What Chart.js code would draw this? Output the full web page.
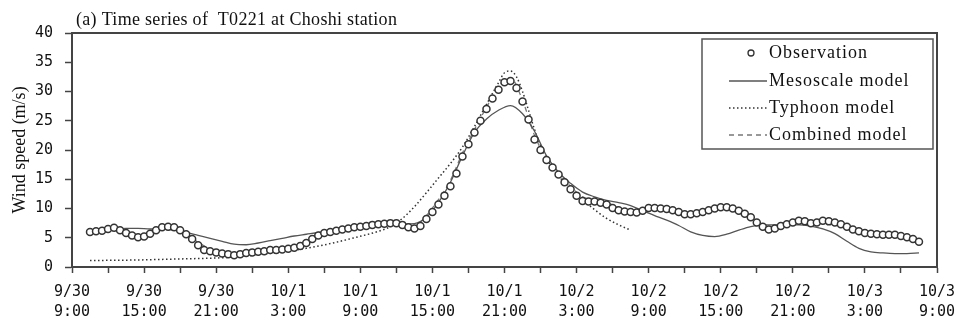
<!DOCTYPE html>
<html>
<head>
<meta charset="utf-8">
<script src="https://cdn.jsdelivr.net/npm/chart.js@4.4.0/dist/chart.umd.min.js"></script>
<style>
  html, body { margin: 0; padding: 0; background: #fff; }
  #c { display: block; }
</style>
</head>
<body>
<canvas id="c" width="956" height="324"></canvas>
<script>
// hours counted from 9/30 9:00
const obsStartHour = 1.5;
const obsStepHours = 0.5;
const obsSpeed = [
  6.0, 6.1, 6.2, 6.5, 6.7, 6.3, 5.8, 5.4, 5.1, 5.2, 5.7, 6.3,
  6.8, 6.9, 6.8, 6.3, 5.6, 4.8, 3.7, 2.9, 2.7, 2.5, 2.3, 2.2,
  2.0, 2.2, 2.4, 2.5, 2.6, 2.7, 2.9, 2.9, 3.0, 3.1, 3.3, 3.6,
  4.1, 4.8, 5.4, 5.8, 6.0, 6.2, 6.4, 6.6, 6.8, 6.9, 7.0, 7.2,
  7.3, 7.4, 7.5, 7.5, 7.2, 6.8, 6.6, 7.0, 8.2, 9.4, 10.7, 12.2,
  13.8, 16.0, 18.9, 21.0, 23.0, 25.0, 27.0, 28.8, 30.3, 31.6, 31.8, 30.6,
  28.3, 25.2, 21.8, 20.0, 18.3, 17.0, 15.8, 14.5, 13.3, 12.2, 11.3, 11.2,
  11.2, 11.0, 10.7, 10.1, 9.7, 9.5, 9.4, 9.3, 9.6, 10.1, 10.1, 10.0,
  9.9, 9.7, 9.4, 9.0, 9.0, 9.2, 9.4, 9.7, 10.0, 10.2, 10.2, 10.0,
  9.6, 9.1, 8.5, 7.6, 6.9, 6.4, 6.6, 7.0, 7.3, 7.6, 7.9, 7.8,
  7.5, 7.6, 7.9, 7.8, 7.6, 7.3, 6.9, 6.4, 6.1, 5.8, 5.7, 5.6,
  5.5, 5.5, 5.5, 5.3, 5.1, 4.8, 4.3
];

const mesoHours = [
  1.5, 2.5, 3.5, 4.5, 5.5, 6.5, 7.5, 8.5, 9.5, 10.5, 11.5, 12.5,
  13.5, 14.5, 15.5, 16.5, 17.5, 18.5, 19.5, 20.5, 21.5, 22.5, 23.5, 24.5,
  25.5, 26.5, 27.5, 28.5, 29.5, 30.5, 31.5, 32.5, 33.5, 34.5, 35.5, 36.5,
  37.5, 38.5, 39.5, 40.5, 41.5, 42.5, 43.5, 44.5, 45.5, 46.5, 47.5, 48.5,
  49.5, 50.5, 51.5, 52.5, 53.5, 54.5, 55.5, 56.5, 57.5, 58.5, 59.5, 60.5,
  61.5, 62.5, 63.5, 64.5, 65.5, 66.5, 67.5, 68.5, 69.5, 70.5
];
const mesoSpeed = [
  6.2, 6.3, 6.5, 6.6, 6.6, 6.5, 6.5, 6.3, 5.9, 5.4, 4.9, 4.4,
  3.9, 3.8, 4.1, 4.5, 4.9, 5.3, 5.6, 5.9, 6.1, 6.4, 6.6, 6.8,
  7.0, 7.2, 7.3, 7.4, 8.5, 11.0, 14.5, 19.0, 23.0, 25.3, 26.8, 27.6,
  26.2, 23.2, 19.0, 16.2, 14.3, 12.8, 12.0, 11.4, 11.0, 10.5, 9.6, 8.8,
  8.0, 7.1, 6.0, 5.4, 5.2, 5.6, 6.3, 6.9, 7.2, 7.2, 7.2, 7.2,
  7.0, 6.5, 5.7, 4.4, 3.2, 2.6, 2.4, 2.3, 2.3, 2.4
];

const typhoonHours = [
  1.5, 3.5, 5.5, 7.5, 9.5, 11.5, 13.5, 15.5, 17.5, 19.5, 21.5, 23.5,
  25.5, 26.5, 27.5, 28.5, 29.5, 30.5, 31.5, 32.5, 33.5, 34.5, 35.5, 36.0,
  36.5, 37.0, 37.5, 38.0, 38.5, 39.0, 39.5, 40.5, 41.5, 42.5, 43.5, 44.5,
  45.5, 46.5
];
const typhoonSpeed = [
  1.1, 1.15, 1.2, 1.3, 1.4, 1.5, 1.7, 2.1, 2.6, 3.2, 4.0, 5.0,
  6.1, 6.9, 8.3, 10.3, 12.7, 15.2, 17.7, 20.5, 24.0, 27.8, 31.5, 33.2,
  33.5, 32.5, 30.0, 26.8, 23.5, 20.8, 18.6, 15.6, 13.3, 11.5, 9.8, 8.3,
  7.2, 6.3
];

const combinedHours = mesoHours;
const combinedSpeed = [
  6.1, 6.3, 6.5, 6.1, 5.5, 5.8, 6.6, 6.6, 5.7, 4.2, 3.1, 2.6,
  2.4, 2.6, 2.8, 3.0, 3.2, 3.5, 4.2, 5.2, 5.9, 6.3, 6.7, 6.9,
  7.2, 7.4, 7.3, 7.0, 8.8, 11.5, 14.8, 19.5, 23.5, 27.3, 30.8, 32.3,
  28.5, 22.5, 18.5, 16.0, 13.8, 12.0, 11.5, 11.0, 10.2, 9.6, 9.6, 10.0,
  9.8, 9.4, 9.1, 9.4, 9.9, 10.1, 9.6, 8.6, 7.1, 6.7, 7.3, 7.8,
  7.6, 7.8, 7.5, 6.9, 6.1, 5.7, 5.5, 5.5, 5.1, 4.4
];

const titleText = '(a) Time series of  T0221 at Choshi station';
const yTitle = 'Wind speed (m/s)';
const seriesNames = ['Observation', 'Mesoscale model', 'Typhoon model', 'Combined model'];

function pairs(xs, ys) {
  return ys.map((v, i) => ({ x: xs[i], y: v }));
}
const obsPoints = obsSpeed.map((v, i) => ({ x: obsStartHour + i * obsStepHours, y: v }));

function hourLabel(h) {
  const total = 9 + h;
  const day = 30 + Math.floor(total / 24);
  const date = day === 30 ? '9/30' : '10/' + (day - 30);
  return [date, (total % 24) + ':00'];
}

// axes keep a fixed size so the plot box lands where the original one is
function fixX(s) {
  s.height = 57;
  s.paddingLeft = 0;
  s.paddingRight = 0;
}
function fixY(s) {
  s.width = 72;
  s.paddingTop = 0;
  s.paddingBottom = 0;
}

const decor = {
  id: 'decor',
  afterDraw(chart) {
    const { ctx, chartArea: a } = chart;
    ctx.save();
    ctx.strokeStyle = '#444';
    ctx.lineWidth = 2;
    ctx.beginPath();
    ctx.moveTo(a.left, a.top);
    ctx.lineTo(a.right, a.top);
    ctx.lineTo(a.right, a.bottom);
    ctx.stroke();

    ctx.fillStyle = '#111';
    ctx.font = '18px "Liberation Serif"';
    ctx.textBaseline = 'middle';
    ctx.letterSpacing = '0.3px';
    ctx.fillText(titleText, 76, 20);

    // legend box
    ctx.strokeStyle = '#555';
    ctx.lineWidth = 1.5;
    ctx.strokeRect(702, 39, 231, 110);
    ctx.letterSpacing = '1px';
    const rows = [53, 81, 108, 135];
    chart.data.datasets.forEach((ds, i) => {
      const y = rows[i];
      if (i === 0) {
        ctx.beginPath();
        ctx.arc(751, y, 3, 0, Math.PI * 2);
        ctx.fillStyle = '#fff';
        ctx.fill();
        ctx.strokeStyle = ds.borderColor;
        ctx.lineWidth = 1.3;
        ctx.setLineDash([]);
        ctx.stroke();
      } else {
        ctx.beginPath();
        ctx.strokeStyle = ds.borderColor;
        ctx.lineWidth = ds.borderWidth;
        ctx.setLineDash(ds.borderDash || []);
        ctx.moveTo(729, y);
        ctx.lineTo(767, y);
        ctx.stroke();
        ctx.setLineDash([]);
      }
      ctx.fillStyle = '#111';
      ctx.fillText(ds.label, 769, y);
    });
    ctx.restore();
  }
};

new Chart(document.getElementById('c'), {
  type: 'scatter',
  data: {
    datasets: [
      {
        label: seriesNames[0],
        data: obsPoints,
        showLine: false,
        pointRadius: 3.5,
        pointBorderWidth: 1.5,
        borderColor: '#333',
        pointBackgroundColor: '#fff',
        backgroundColor: '#fff'
      },
      {
        label: seriesNames[1],
        data: pairs(mesoHours, mesoSpeed),
        showLine: true,
        pointRadius: 0,
        borderColor: '#555',
        borderWidth: 1.3,
        cubicInterpolationMode: 'monotone'
      },
      {
        label: seriesNames[2],
        data: pairs(typhoonHours, typhoonSpeed),
        showLine: true,
        pointRadius: 0,
        borderColor: '#333',
        borderWidth: 1.5,
        borderDash: [1.5, 2.5],
        cubicInterpolationMode: 'monotone'
      },
      {
        label: seriesNames[3],
        data: pairs(combinedHours, combinedSpeed),
        showLine: true,
        pointRadius: 0,
        borderColor: '#777',
        borderWidth: 1.3,
        borderDash: [5, 4],
        cubicInterpolationMode: 'monotone'
      }
    ]
  },
  options: {
    responsive: false,
    animation: false,
    layout: { autoPadding: false, padding: { top: 33, right: 19, left: 0, bottom: 0 } },
    plugins: { legend: { display: false }, tooltip: { enabled: false } },
    scales: {
      x: {
        type: 'linear',
        min: 0,
        max: 72,
        afterFit: fixX,
        ticks: {
          stepSize: 3,
          autoSkip: false,
          maxRotation: 0,
          padding: 9,
          color: '#111',
          font: { family: '"DejaVu Sans Mono"', size: 15, lineHeight: 1.33 },
          callback: v => (v % 6 === 0 ? hourLabel(v) : '')
        },
        grid: { drawOnChartArea: false, tickLength: 6, tickColor: '#444', tickWidth: 1.5 },
        border: { color: '#444', width: 2 }
      },
      y: {
        min: 0,
        max: 40,
        afterFit: fixY,
        ticks: {
          stepSize: 5,
          padding: 12,
          color: '#111',
          font: { family: '"DejaVu Sans Mono"', size: 15 }
        },
        grid: { drawOnChartArea: false, tickLength: 7, tickColor: '#444', tickWidth: 1.5 },
        border: { color: '#444', width: 2 },
        title: {
          display: true,
          text: yTitle,
          color: '#111',
          padding: { top: 9, bottom: 0 },
          font: { family: '"Liberation Serif"', size: 18, lineHeight: 1.2 }
        }
      }
    }
  },
  plugins: [decor]
});
</script>
</body>
</html>
